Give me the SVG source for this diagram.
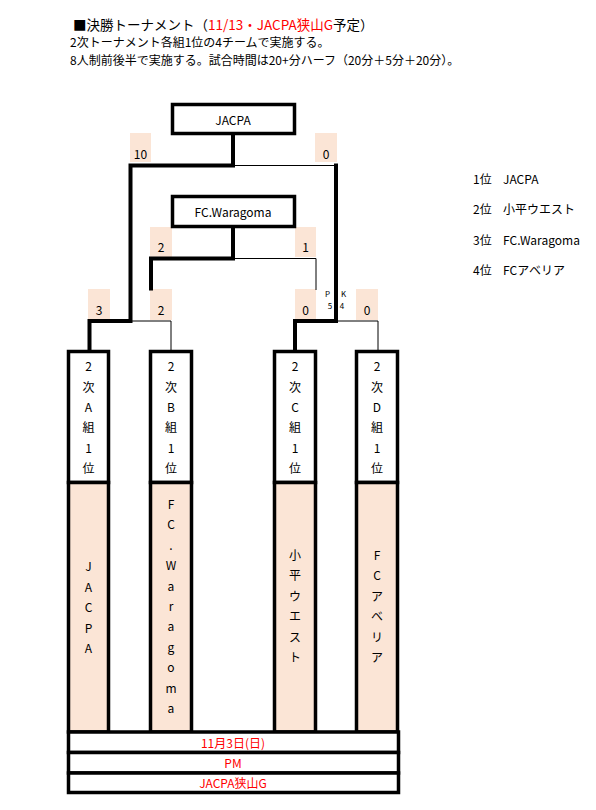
<svg xmlns="http://www.w3.org/2000/svg" width="596" height="810" viewBox="0 0 596 810">
<style>
text{font-family:"Noto Sans CJK JP","Noto Sans",sans-serif;fill:#000;}
.t12{font-size:12px;}
.c{text-anchor:middle;dominant-baseline:central;font-size:12px;}
.red{fill:#ff0000;}
.box{stroke:#000;stroke-width:3.5;fill:#fff;}
.peach{fill:#fbe5d6;}
.pbox{stroke:#000;stroke-width:3.5;fill:#fbe5d6;}
.thick{stroke:#000;stroke-width:4;fill:none;stroke-linejoin:miter;stroke-linecap:square;}
.thin{stroke:#000;stroke-width:1;fill:none;}
.pk{font-size:8px;text-anchor:middle;dominant-baseline:central;}
</style>
<rect width="596" height="810" fill="#fff"/>
<g id="header">
<text x="73" y="30" style="font-size:13.5px">■決勝トーナメント（<tspan class="red">11/13・JACPA狭山G</tspan>予定）</text>
<text x="70" y="47" class="t12">2次トーナメント各組1位の4チームで実施する。</text>
<text x="70" y="65" class="t12">8人制前後半で実施する。試合時間は20+分ハーフ（20分＋5分＋20分）。</text>
</g>
<g id="ranking" class="t12">
<text x="473" y="184">1位</text><text x="503" y="184">JACPA</text>
<text x="473" y="214">2位</text><text x="503" y="214">小平ウエスト</text>
<text x="473" y="245">3位</text><text x="503" y="245">FC.Waragoma</text>
<text x="473" y="275">4位</text><text x="503" y="275">FCアベリア</text>
</g>
<g id="scores">
<rect class="peach" x="130" y="133" width="21" height="29"/><text class="c" x="140.5" y="153">10</text>
<rect class="peach" x="315" y="133" width="22" height="29"/><text class="c" x="326" y="153">0</text>
<rect class="peach" x="150" y="227" width="22" height="30"/><text class="c" x="161" y="246.5">2</text>
<rect class="peach" x="295" y="227" width="21" height="30"/><text class="c" x="305.5" y="246.5">1</text>
<rect class="peach" x="88" y="289" width="22" height="31"/><text class="c" x="99" y="309">3</text>
<rect class="peach" x="150" y="289" width="22" height="31"/><text class="c" x="161" y="309">2</text>
<rect class="peach" x="295" y="289" width="21" height="31"/><text class="c" x="305.5" y="309">0</text>
<rect class="peach" x="356" y="289" width="22" height="31"/><text class="c" x="367" y="309">0</text>
<text class="pk" x="327.5" y="293.5">P</text><text class="pk" x="343.5" y="293.5">K</text>
<text class="pk" x="330" y="305">5</text><text class="pk" x="342" y="305">4</text>
</g>
<g id="connectors">
<path class="thin" d="M233 165.5 H336"/>
<path class="thin" d="M233 258.5 H316 V290"/>
<path class="thin" d="M130.5 321 H171 V350"/>
<path class="thin" d="M336 321 H378 V350"/>
<path class="thick" d="M233 135 V165.5 H130.5 V321 H89.5 V350"/>
<path class="thick" d="M336 165.5 V321 H295 V350"/>
<path class="thick" d="M233 228 V258.5 H151 V288.5"/>
</g>
<g id="final">
<rect class="box" x="172.5" y="104.5" width="122" height="29"/>
<text class="c" x="233" y="119">JACPA</text>
</g>
<g id="third">
<rect class="box" x="172.5" y="196.5" width="122" height="30"/>
<text class="c" x="233" y="211.5">FC.Waragoma</text>
</g>
<g id="team-a">
<rect class="box" x="68.5" y="351.5" width="40" height="131"/>
<rect class="pbox" x="68.5" y="482.5" width="40" height="249.5"/>
<text class="c"><tspan x="88.5" y="365">2</tspan><tspan x="88.5" y="385.5">次</tspan><tspan x="88.5" y="406">A</tspan><tspan x="88.5" y="426">組</tspan><tspan x="88.5" y="446.5">1</tspan><tspan x="88.5" y="467">位</tspan></text>
<text class="c"><tspan x="88.5" y="565">J</tspan><tspan x="88.5" y="585.5">A</tspan><tspan x="88.5" y="606">C</tspan><tspan x="88.5" y="626.5">P</tspan><tspan x="88.5" y="647">A</tspan></text>
</g>
<g id="team-b">
<rect class="box" x="150.5" y="351.5" width="41" height="131"/>
<rect class="pbox" x="150.5" y="482.5" width="41" height="249.5"/>
<text class="c"><tspan x="171" y="365">2</tspan><tspan x="171" y="385.5">次</tspan><tspan x="171" y="406">B</tspan><tspan x="171" y="426">組</tspan><tspan x="171" y="446.5">1</tspan><tspan x="171" y="467">位</tspan></text>
<text class="c"><tspan x="171" y="503">F</tspan><tspan x="171" y="523.4">C</tspan><tspan x="171" y="543.8">.</tspan><tspan x="171" y="564.2">W</tspan><tspan x="171" y="584.6">a</tspan><tspan x="171" y="605">r</tspan><tspan x="171" y="625.4">a</tspan><tspan x="171" y="645.8">g</tspan><tspan x="171" y="666.2">o</tspan><tspan x="171" y="686.6">m</tspan><tspan x="171" y="707">a</tspan></text>
</g>
<g id="team-c">
<rect class="box" x="274.5" y="351.5" width="41" height="131"/>
<rect class="pbox" x="274.5" y="482.5" width="41" height="249.5"/>
<text class="c"><tspan x="295" y="365">2</tspan><tspan x="295" y="385.5">次</tspan><tspan x="295" y="406">C</tspan><tspan x="295" y="426">組</tspan><tspan x="295" y="446.5">1</tspan><tspan x="295" y="467">位</tspan></text>
<text class="c"><tspan x="295" y="553.5">小</tspan><tspan x="295" y="574">平</tspan><tspan x="295" y="594.5">ウ</tspan><tspan x="295" y="615">エ</tspan><tspan x="295" y="635.5">ス</tspan><tspan x="295" y="656">ト</tspan></text>
</g>
<g id="team-d">
<rect class="box" x="356.5" y="351.5" width="41" height="131"/>
<rect class="pbox" x="356.5" y="482.5" width="41" height="249.5"/>
<text class="c"><tspan x="377" y="365">2</tspan><tspan x="377" y="385.5">次</tspan><tspan x="377" y="406">D</tspan><tspan x="377" y="426">組</tspan><tspan x="377" y="446.5">1</tspan><tspan x="377" y="467">位</tspan></text>
<text class="c"><tspan x="377" y="553.5">F</tspan><tspan x="377" y="574">C</tspan><tspan x="377" y="594.5">ア</tspan><tspan x="377" y="615">ベ</tspan><tspan x="377" y="635.5">リ</tspan><tspan x="377" y="656">ア</tspan></text>
</g>
<g id="info">
<rect class="box" x="68.5" y="732" width="330" height="20.5"/>
<rect class="box" x="68.5" y="752.5" width="330" height="20.5"/>
<rect class="box" x="68.5" y="773" width="330" height="19.5"/>
<text class="c red" x="233" y="742">11月3日(日)</text>
<text class="c red" x="233" y="762.5">PM</text>
<text class="c red" x="233" y="782.5">JACPA狭山G</text>
</g>
</svg>
